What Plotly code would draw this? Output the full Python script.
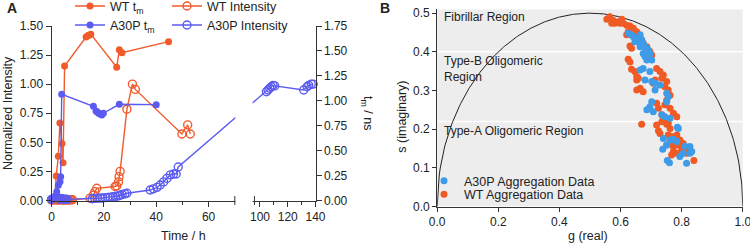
import numpy as np
import plotly.graph_objects as go

W, H = 750, 243
def px_x(p): return p / W
def px_y(p): return (H - p) / H

ORANGE_A = '#F15A2B'
BLUE_A = '#5B5BF2'
ORANGE_B = '#F05A24'
BLUE_B = '#3E9BE8'
TXT = '#222222'
AX = '#333333'
FONT = 'Liberation Sans, Arial, sans-serif'

# ---------------- Panel A data ----------------
wt_tm_h = [0, 0.4, 0.8, 1.2, 1.8, 2.6, 3.2, 4.0, 4.4, 5.0, 13.2, 13.8, 14.3, 15.0, 24.9, 25.9, 26.9, 44.7]
wt_tm_ns = [0, 0, 0, 0, 0.245, 0.443, 0.776, 0.572, 0.379, 1.348, 1.639, 1.651, 1.657, 1.668,
            1.336, 1.511, 1.482, 1.593]

a30p_tm_h = [0, 0.5, 1.0, 1.5, 2.0, 2.6, 3.25, 3.5, 3.9, 16.0, 17.0, 17.5, 18.0, 18.6, 19.2, 19.8, 25.9, 40.0]
a30p_tm_ns = [0, 0.012, 0.023, 0.047, 0.089, 0.152, 0.187, 0.239, 1.065, 0.945, 0.898, 0.887, 0.875,
              0.868, 0.858, 0.875, 0.965, 0.961]

wt_int_h = [0, 0.5, 1, 1.5, 2, 2.5, 3, 3.5, 4, 4.5, 5, 5.5, 6, 6.5, 7, 7.5, 8,
            14.7, 16.0, 16.6, 17.3, 24.3, 24.9, 25.6, 25.8, 26.2, 28.8, 30.9, 32.0, 49.8, 52.0, 53.0]
wt_int_v = [0.005, 0.004, 0.006, 0.005, 0.007, 0.004, 0.006, 0.005, 0.006, 0.004, 0.005, 0.006, 0.004,
            0.005, 0.006, 0.005, 0.006,
            0.02, 0.047, 0.076, 0.105, 0.12, 0.125, 0.16, 0.205, 0.25, 0.785, 1.0, 0.955, 0.572, 0.65, 0.572]

a30p_int_h = [0, 0.5, 1, 1.5, 2, 2.5, 3, 3.5, 4, 4.5, 5, 5.5, 6,
              15.5, 16.5, 17.5, 18.6, 19.5, 20.5, 21.5, 22.4, 23.5, 24.5, 25.5, 26.2, 27.0, 28.0, 28.8,
              37.7, 38.9, 40.3, 41.5, 42.8, 44.1, 45.4, 46.6, 47.6, 48.4,
              104.6, 105.8, 107.0, 108.2, 109.4, 110.6, 131.5, 133.9, 135.1, 136.9, 138.3]
a30p_int_v = [0.01, 0.012, 0.015, 0.01, 0.02, 0.015, 0.012, 0.018, 0.015, 0.012, 0.01, 0.012, 0.01,
              0.015, 0.018, 0.02, 0.02, 0.022, 0.025, 0.027, 0.028, 0.032, 0.036, 0.04, 0.045, 0.052, 0.057, 0.062,
              0.09, 0.10, 0.113, 0.133, 0.16, 0.19, 0.22, 0.228, 0.228, 0.288,
              0.935, 0.95, 0.965, 0.978, 0.99, 0.985, 0.95, 0.978, 0.99, 1.0, 1.0]

x_major = [0, 20, 40, 60, 100, 120, 140]
x_major_labels = ['0', '20', '40', '60', '100', '120', '140']
x_minor = [10, 30, 50, 110, 130]
y_left_ticks = [0, 0.25, 0.5, 0.75, 1.0, 1.25, 1.5]
y_right_ticks = [0, 0.25, 0.5, 0.75, 1.0, 1.25, 1.5, 1.75]

# ---------------- Panel B data ----------------
wt_g = [0.555, 0.565, 0.576, 0.582, 0.593, 0.604, 0.609, 0.620, 0.631, 0.642, 0.653, 0.669, 0.674, 0.686,
        0.696, 0.702, 0.631, 0.636, 0.625, 0.631, 0.636, 0.647, 0.653, 0.658, 0.653, 0.664, 0.674, 0.729,
        0.740, 0.735, 0.751, 0.745, 0.756, 0.762, 0.751, 0.745, 0.762, 0.773, 0.784, 0.718, 0.724, 0.735,
        0.740, 0.751, 0.707, 0.713, 0.669, 0.718, 0.735, 0.756, 0.762, 0.724, 0.729, 0.756, 0.767, 0.784,
        0.778, 0.794, 0.805, 0.789, 0.773, 0.816, 0.784, 0.767, 0.773, 0.800, 0.816, 0.840, 0.751, 0.762,
        0.571, 0.598, 0.625, 0.636, 0.620, 0.653, 0.718]
wt_s = [0.484, 0.491, 0.481, 0.474, 0.478, 0.484, 0.474, 0.469, 0.467, 0.461, 0.452, 0.431, 0.422, 0.413,
        0.401, 0.392, 0.415, 0.409, 0.381, 0.374, 0.355, 0.349, 0.327, 0.332, 0.301, 0.306, 0.297, 0.349,
        0.340, 0.332, 0.323, 0.310, 0.301, 0.288, 0.275, 0.263, 0.254, 0.241, 0.232, 0.267, 0.254, 0.237,
        0.224, 0.213, 0.319, 0.327, 0.213, 0.211, 0.219, 0.215, 0.202, 0.196, 0.189, 0.185, 0.181, 0.185,
        0.172, 0.172, 0.163, 0.159, 0.155, 0.142, 0.138, 0.133, 0.142, 0.146, 0.138, 0.119, 0.159, 0.163,
        0.474, 0.474, 0.452, 0.444, 0.444, 0.336, 0.357]

a30p_g = [0.625, 0.636, 0.642, 0.653, 0.664, 0.669, 0.658, 0.674, 0.680, 0.686, 0.691, 0.696, 0.674, 0.680,
          0.686, 0.702, 0.647, 0.664, 0.664, 0.674, 0.696, 0.680, 0.702, 0.713, 0.729, 0.713, 0.751, 0.756,
          0.751, 0.702, 0.696, 0.686, 0.707, 0.735, 0.745, 0.762, 0.789, 0.786, 0.740, 0.762, 0.773, 0.751,
          0.811, 0.827, 0.833, 0.827, 0.738, 0.753, 0.760, 0.816, 0.794, 0.805, 0.784]
a30p_s = [0.448, 0.444, 0.439, 0.435, 0.444, 0.431, 0.426, 0.422, 0.413, 0.409, 0.405, 0.396, 0.396, 0.388,
          0.379, 0.379, 0.426, 0.413, 0.353, 0.357, 0.349, 0.327, 0.323, 0.319, 0.314, 0.301, 0.293, 0.284,
          0.271, 0.271, 0.258, 0.250, 0.245, 0.237, 0.232, 0.228, 0.202, 0.205, 0.176, 0.172, 0.174, 0.159,
          0.156, 0.155, 0.142, 0.138, 0.148, 0.119, 0.113, 0.112, 0.129, 0.138, 0.168]

region_bounds = [0.0, 0.22, 0.40, 0.51]

# ---------------- broken time axis ----------------
SEG1_END = 70
SEG2_START = 96
GAP = 7.5          # width of the break, in segment-1 hours
SEG2_SCALE = 0.53  # compression of the second segment
SEG2_END = 140

def disp(h):
    h = np.asarray(h, float)
    return np.where(h <= SEG1_END, h, SEG1_END + GAP + (h - SEG2_START) * SEG2_SCALE)

x_end = float(disp([SEG2_END])[0])

fig = go.Figure()

def line_trace(h, v, color, name, legend, yaxis, open_marker):
    if open_marker:
        marker = dict(symbol='circle-open', size=8, color=color, line=dict(width=1.4, color=color))
    else:
        marker = dict(symbol='circle', size=7, color=color)
    return go.Scatter(x=disp(h), y=v, mode='lines+markers', name=name, legend=legend,
                      xaxis='x', yaxis=yaxis, line=dict(color=color, width=1.4),
                      marker=marker, cliponaxis=False)

fig.add_trace(line_trace(wt_int_h, wt_int_v, ORANGE_A, 'WT Intensity', 'legend2', 'y', True))
fig.add_trace(line_trace(a30p_int_h, a30p_int_v, BLUE_A, 'A30P Intensity', 'legend4', 'y', True))
fig.add_trace(line_trace(wt_tm_h, wt_tm_ns, ORANGE_A, 'WT t<sub>m</sub>', 'legend', 'y2', False))
fig.add_trace(line_trace(a30p_tm_h, a30p_tm_ns, BLUE_A, 'A30P t<sub>m</sub>', 'legend3', 'y2', False))

# Panel B
circ_g = np.linspace(0, 1, 301)
circ_s = np.sqrt(np.clip(0.25 - (circ_g - 0.5) ** 2, 0, None))
fig.add_trace(go.Scatter(x=circ_g, y=circ_s, mode='lines', line=dict(color='#222222', width=1),
                         xaxis='x2', yaxis='y3', showlegend=False, hoverinfo='skip'))
fig.add_trace(go.Scatter(x=wt_g, y=wt_s, mode='markers', name='WT Aggregation Data', legend='legend6',
                         xaxis='x2', yaxis='y3', marker=dict(color=ORANGE_B, size=7)))
fig.add_trace(go.Scatter(x=a30p_g, y=a30p_s, mode='markers', name='A30P Aggregation Data', legend='legend5',
                         xaxis='x2', yaxis='y3', marker=dict(color=BLUE_B, size=7)))

axis_common = dict(showgrid=False, zeroline=False, showline=True, linecolor=AX, linewidth=1,
                   ticks='outside', tickcolor=AX, ticklen=5, tickwidth=1,
                   ticklabeloverflow='allow',
                   tickfont=dict(family=FONT, size=12, color=TXT))

fig.update_layout(
    width=W, height=H, autosize=False,
    margin=dict(l=0, r=0, t=0, b=0, pad=0, autoexpand=False),
    paper_bgcolor='white', plot_bgcolor='rgba(0,0,0,0)',
    font=dict(family=FONT, size=12, color=TXT),
    xaxis=dict(domain=[px_x(51.5), px_x(315.5)], range=[0, x_end], anchor='y',
               tickmode='array', tickvals=disp(x_major), ticktext=x_major_labels,
               minor=dict(tickmode='array', tickvals=disp(x_minor), ticklen=3, ticks='outside',
                          tickcolor=AX),
               **axis_common),
    yaxis=dict(domain=[px_y(200.5), px_y(26)], range=[0, 1.5], anchor='x',
               tickmode='array', tickvals=y_left_ticks, tickformat='.2f', **axis_common),
    yaxis2=dict(overlaying='y', side='right', anchor='x', range=[0, 1.75],
                tickmode='array', tickvals=y_right_ticks, tickformat='.2f', **axis_common),
    xaxis2=dict(domain=[px_x(437.2), px_x(742.8)], range=[0, 1], anchor='y3',
                tickmode='array', tickvals=[0, 0.2, 0.4, 0.6, 0.8, 1.0], tickformat='.1f',
                **{**axis_common, 'ticklen': 4}),
    yaxis3=dict(domain=[px_y(206.5), px_y(9.3)], range=[0, 0.51], anchor='x2',
                tickmode='array', tickvals=[0, 0.1, 0.2, 0.3, 0.4, 0.5], tickformat='.1f',
                **{**axis_common, 'ticklen': 4}),
    showlegend=True,
)

leg_common = dict(orientation='v', xanchor='left', yanchor='top', bgcolor='rgba(0,0,0,0)',
                  borderwidth=0, font=dict(family=FONT, size=12.5, color=TXT), itemwidth=30)
fig.update_layout(
    legend=dict(x=px_x(70), y=px_y(-8.6), **leg_common),
    legend2=dict(x=px_x(167), y=px_y(-8.6), **leg_common),
    legend3=dict(x=px_x(70), y=px_y(10.4), **leg_common),
    legend4=dict(x=px_x(167), y=px_y(10.4), **leg_common),
    legend5=dict(x=px_x(424), y=px_y(166.1), **leg_common),
    legend6=dict(x=px_x(424), y=px_y(179.7), **leg_common),
)

shapes = []
# Panel B region backgrounds
for y0, y1 in zip(region_bounds[:-1], region_bounds[1:]):
    shapes.append(dict(type='rect', xref='x2', yref='y3', x0=0, x1=1, y0=y0, y1=y1,
                       fillcolor='#EDEDED', line=dict(width=0), layer='below'))
for yb in region_bounds[1:-1]:
    shapes.append(dict(type='line', xref='x2', yref='y3', x0=0, x1=1, y0=yb, y1=yb,
                       line=dict(color='white', width=1.5), layer='below'))
# axis break: blank the gap, then draw the break bars
shapes.append(dict(type='rect', xref='paper', yref='paper', x0=px_x(235.3), x1=px_x(252.6),
                   y0=px_y(207), y1=px_y(20), fillcolor='white', line=dict(width=0), layer='above'))
for xb in [SEG1_END, SEG2_START]:
    xd = float(disp([xb])[0])
    shapes.append(dict(type='line', xref='x', yref='paper', x0=xd, x1=xd,
                       y0=px_y(196), y1=px_y(205), line=dict(color=AX, width=1), layer='above'))
fig.update_layout(shapes=shapes)

ann = []
def add_text(text, x, y, size=12.5, angle=0, xanchor='center', bold=False, yanchor='middle'):
    ann.append(dict(text=f'<b>{text}</b>' if bold else text, x=px_x(x), y=px_y(y),
                    xref='paper', yref='paper', showarrow=False, textangle=angle,
                    xanchor=xanchor, yanchor=yanchor, align='left',
                    font=dict(family=FONT, size=size, color=TXT)))

add_text('A', 11.5, 8, size=14, bold=True)
add_text('B', 385, 8, size=14, bold=True)
add_text('Normalized Intensity', 8, 113, angle=-90)
add_text('t<sub>m</sub> / ns', 367, 113, angle=90)
add_text('Time / h', 183, 236)
add_text('s (imaginary)', 401.7, 117, angle=-90)
add_text('g (real)', 588, 236)
add_text('Fibrillar Region', 442, 17, size=12, xanchor='left')
add_text('Type-B Oligomeric<br>Region', 442, 69, size=12, xanchor='left')
add_text('Type-A Oligomeric Region', 442, 131, size=12, xanchor='left')
fig.update_layout(annotations=ann)

fig.write_html('out.html')
